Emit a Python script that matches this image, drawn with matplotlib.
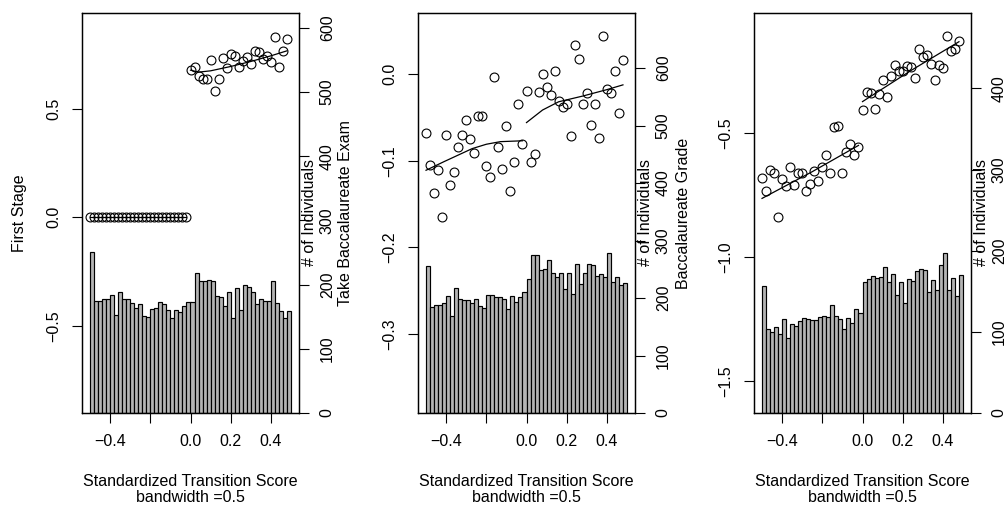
import matplotlib
matplotlib.use("Agg")
import matplotlib.pyplot as plt
import numpy as np

plt.rcParams["font.family"] = ["Liberation Sans", "DejaVu Sans"]
plt.rcParams["font.size"] = 11.5

# bins of the running variable (width 0.02 from -0.5 to 0.5)
bin_left = np.arange(-0.5, 0.5, 0.02)
x_left = np.arange(-0.50, 0.0, 0.02)[:25]
x_right = np.arange(0.0, 0.5, 0.02)[:25]

# --- panel 1: First Stage
hist1 = [250, 175, 174, 177, 178, 184, 152, 189, 178, 177, 172, 164, 170, 151, 150,
         162, 164, 173, 170, 161, 148, 160, 157, 167, 173, 173, 218, 205, 206, 207,
         206, 182, 180, 167, 188, 148, 195, 161, 199, 196, 188, 169, 177, 175, 174,
         206, 172, 159, 148, 159]
y1_left = [0.0] * 25
y1_right = [0.679, 0.693, 0.651, 0.636, 0.638, 0.726, 0.579, 0.636, 0.734, 0.685,
            0.751, 0.743, 0.690, 0.717, 0.739, 0.706, 0.763, 0.761, 0.728, 0.740,
            0.714, 0.830, 0.691, 0.763, 0.822]
fit1_lx = [-0.50, -0.02]
fit1_ly = [0.0, 0.0]
fit1_rx = [0.0, 0.04, 0.10, 0.20, 0.30, 0.40, 0.48]
fit1_ry = [0.677, 0.668, 0.674, 0.694, 0.717, 0.743, 0.766]

# --- panel 2: Take Baccalaureate Exam
hist2 = [256, 185, 188, 188, 191, 204, 169, 217, 198, 196, 196, 191, 199, 186, 183,
         206, 205, 202, 202, 199, 181, 204, 193, 201, 210, 233, 275, 275, 249, 250,
         266, 244, 236, 244, 216, 244, 207, 260, 224, 244, 260, 257, 239, 241, 236,
         279, 228, 236, 223, 226]
y2_left = [-0.068, -0.105, -0.137, -0.111, -0.165, -0.070, -0.128, -0.113, -0.084,
           -0.070, -0.053, -0.075, -0.091, -0.048, -0.048, -0.106, -0.119, -0.004,
           -0.084, -0.110, -0.060, -0.135, -0.101, -0.035, -0.081]
y2_right = [-0.020, -0.102, -0.092, -0.021, 0.000, -0.015, -0.024, 0.003, -0.031,
            -0.038, -0.034, -0.072, 0.033, 0.017, -0.034, -0.022, -0.059, -0.035,
            -0.074, 0.044, -0.017, -0.022, 0.003, -0.045, 0.016]
fit2_lx = [-0.50, -0.41, -0.27, -0.20, -0.13, -0.02]
fit2_ly = [-0.111, -0.101, -0.086, -0.081, -0.078, -0.077]
fit2_rx = [0.0, 0.08, 0.16, 0.28, 0.40, 0.48]
fit2_ry = [-0.056, -0.0415, -0.032, -0.0254, -0.018, -0.0125]

# --- panel 3: Baccalaureate Grade
hist3 = [156, 104, 100, 106, 97, 116, 92, 110, 107, 114, 117, 116, 115, 115, 118,
         119, 118, 133, 120, 116, 103, 117, 111, 128, 123, 161, 165, 169, 167, 168,
         180, 161, 171, 145, 162, 136, 165, 163, 175, 177, 176, 149, 164, 152, 183,
         197, 151, 167, 144, 170]
y3_left = [-0.682, -0.732, -0.648, -0.659, -0.840, -0.685, -0.712, -0.637, -0.709,
           -0.659, -0.659, -0.732, -0.705, -0.654, -0.692, -0.635, -0.588, -0.662,
           -0.476, -0.470, -0.659, -0.577, -0.543, -0.588, -0.554]
y3_right = [-0.406, -0.334, -0.336, -0.403, -0.340, -0.285, -0.352, -0.267, -0.224,
            -0.247, -0.247, -0.227, -0.231, -0.278, -0.159, -0.190, -0.183, -0.220,
            -0.285, -0.224, -0.237, -0.107, -0.166, -0.159, -0.127]
fit3_lx = [-0.50, -0.25, -0.02]
fit3_ly = [-0.763, -0.655, -0.549]
fit3_rx = [0.0, 0.24, 0.48]
fit3_ry = [-0.372, -0.247, -0.130]

panels = [
    dict(hist=hist1, yl=y1_left, yr=y1_right, fl=(fit1_lx, fit1_ly), fr=(fit1_rx, fit1_ry),
         ylim=(-0.9, 0.94), yticks=[-0.5, 0.0, 0.5], hmax=623, hticks=range(0, 601, 100),
         ylab="First Stage", left=82, ylab_x=20),
    dict(hist=hist2, yl=y2_left, yr=y2_right, fl=(fit2_lx, fit2_ly), fr=(fit2_rx, fit2_ry),
         ylim=(-0.391, 0.0704), yticks=[-0.3, -0.2, -0.1, 0.0], hmax=696, hticks=range(0, 601, 100),
         ylab="Take Baccalaureate Exam", left=418, ylab_x=346),
    dict(hist=hist3, yl=y3_left, yr=y3_right, fl=(fit3_lx, fit3_ly), fr=(fit3_rx, fit3_ry),
         ylim=(-1.63, -0.014), yticks=[-1.5, -1.0, -0.5], hmax=493, hticks=range(0, 401, 100),
         ylab="Baccalaureate Grade", left=754, ylab_x=683),
]

W, H = 1008, 508
fig = plt.figure(figsize=(W / 100, H / 100), dpi=100)

def fmt(v):
    return f"{v:.1f}".replace("-", "\u2212")

for p in panels:
    ax = fig.add_axes([p["left"] / W, 95 / H, 217 / W, 400 / H])
    ax2 = ax.twinx()
    ax.set_zorder(ax2.get_zorder() + 1)
    ax.patch.set_visible(False)

    ax2.bar(bin_left, p["hist"], width=0.02, align="edge", color="#B4B4B4",
            edgecolor="black", linewidth=0.85)
    ax2.set_ylim(0, p["hmax"])
    ax2.set_yticks(list(p["hticks"]))
    ax2.set_yticklabels([str(t) for t in p["hticks"]], rotation=90, va="center")

    ax.plot(x_left, p["yl"], "o", mfc="none", mec="black", ms=6.4, mew=0.8)
    ax.plot(x_right, p["yr"], "o", mfc="none", mec="black", ms=6.4, mew=0.8)
    ax.plot(*p["fl"], color="black", lw=0.9)
    ax.plot(*p["fr"], color="black", lw=0.9)

    ax.set_xlim(-0.54, 0.54)
    ax.set_ylim(*p["ylim"])
    ax.set_xticks([-0.4, -0.2, 0.0, 0.2, 0.4])
    ax.set_xticklabels(["\u22120.4", "", "0.0", "0.2", "0.4"])
    ax.set_yticks(p["yticks"])
    ax.set_yticklabels([fmt(t) for t in p["yticks"]], rotation=90, va="center")

    for a in (ax, ax2):
        a.tick_params(length=7, width=0.8, pad=8, labelsize=11.5)
        for s in a.spines.values():
            s.set_linewidth(0.9)

    cx = (p["left"] + 108.5) / W
    fig.text(cx, 1 - 481 / H, "Standardized Transition Score", ha="center", va="center")
    fig.text(cx, 1 - 498 / H, "bandwidth =0.5", ha="center", va="center")
    fig.text(p["ylab_x"] / W, 1 - 213 / H, p["ylab"], rotation=90, ha="center", va="center")
    fig.text((p["left"] + 227) / W, 1 - 213 / H, "# of Individuals", rotation=90,
             ha="center", va="center")

fig.savefig("out.png", dpi=100)
